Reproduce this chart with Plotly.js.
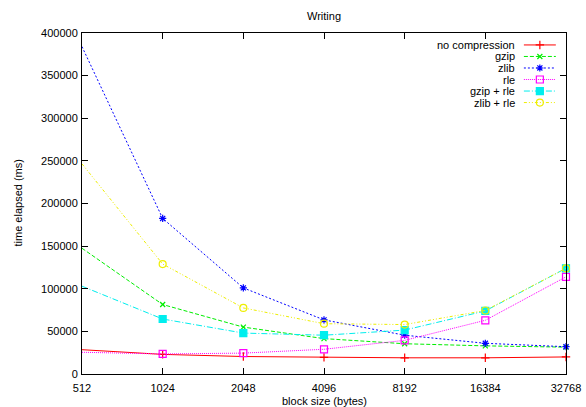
<!DOCTYPE html>
<html>
<head>
<meta charset="utf-8">
<script src="https://cdn.plot.ly/plotly-3.0.1.min.js"></script>
<style>
  html, body { margin: 0; padding: 0; background: #fff; }
  #chart { width: 586px; height: 407px; }
</style>
</head>
<body>
<div id="chart"></div>
<script>
// Block sizes (bytes) on the x axis
const blockSizes = [512, 1024, 2048, 4096, 8192, 16384, 32768];
const blockLabels = ['512', '1024', '2048', '4096', '8192', '16384', '32768'];

// Time elapsed (ms) for each compression mode
const noCompression = [28500, 23000, 20500, 19500, 19000, 19000, 20000];
const gzip          = [147500, 81500, 55000, 41500, 35500, 33000, 31500];
const zlib          = [384000, 182500, 101000, 63500, 45500, 36000, 32000];
const rle           = [25500, 23500, 24500, 29000, 39500, 63000, 114000];
const gzipRle       = [103000, 64500, 48000, 45500, 51500, 74000, 124000];
const zlibRle       = [246500, 129000, 77500, 59000, 58000, 74500, 124000];

const seriesNames = ['no compression', 'gzip', 'zlib', 'rle', 'gzip + rle', 'zlib + rle'];
const seriesData = [noCompression, gzip, zlib, rle, gzipRle, zlibRle];

const yTicks = [0, 50000, 100000, 150000, 200000, 250000, 300000, 350000, 400000];

// Line/marker styles in the classic gnuplot palette
const styles = [
  { color: '#ff0000', dash: 'solid',                   symbol: 'cross-thin-open', size: 6 },
  { color: '#00ee00', dash: '4px,2px',                 symbol: 'x-thin-open',     size: 5 },
  { color: '#0000ff', dash: '2px,2px',                 symbol: 'asterisk-open',   size: 6 },
  { color: '#ff00ff', dash: '1px,1px',                 symbol: 'square-open',     size: 7 },
  { color: '#00eeee', dash: '6px,2px,1px,2px',         symbol: 'square',          size: 7 },
  { color: '#eeee00', dash: '3px,2px,1px,2px,1px,2px', symbol: 'circle-open',     size: 7 }
];

function markerFor(s) {
  return { symbol: s.symbol, size: s.size, color: s.color,
           line: { color: s.color, width: 1.2 } };
}

const traces = seriesData.map((vals, i) => ({
  type: 'scatter',
  mode: 'lines+markers',
  name: seriesNames[i],
  x: blockSizes,
  y: vals,
  line: { color: styles[i].color, width: 1, dash: styles[i].dash },
  marker: markerFor(styles[i]),
  showlegend: false,
  cliponaxis: false
}));

// Key in the top-right corner: text right-aligned, sample line to its right
const keyTop = 0.965, keyStep = 0.0338;
const keyTextX = 0.899, keyLineX0 = 0.913, keyLineX1 = 0.979;
const annotations = [];
seriesNames.forEach((name, i) => {
  const ky = keyTop - i * keyStep;
  traces.push({
    type: 'scatter', mode: 'lines', xaxis: 'x2', yaxis: 'y2',
    x: [keyLineX0, keyLineX1], y: [ky, ky],
    line: { color: styles[i].color, width: 1, dash: styles[i].dash },
    showlegend: false, hoverinfo: 'skip'
  });
  traces.push({
    type: 'scatter', mode: 'markers', xaxis: 'x2', yaxis: 'y2',
    x: [(keyLineX0 + keyLineX1) / 2], y: [ky],
    marker: markerFor(styles[i]),
    showlegend: false, hoverinfo: 'skip'
  });
  annotations.push({
    xref: 'paper', yref: 'paper', x: keyTextX, y: ky,
    xanchor: 'right', yanchor: 'middle', showarrow: false,
    text: name, font: { size: 11, color: '#000' }
  });
});

annotations.push({
  xref: 'paper', yref: 'paper', x: 0.5, y: 1, yshift: 17,
  xanchor: 'center', yanchor: 'middle', showarrow: false,
  text: 'Writing', font: { size: 11, color: '#000' }
});
annotations.push({
  xref: 'paper', yref: 'paper', x: 0.5, y: 0, yshift: -27,
  xanchor: 'center', yanchor: 'middle', showarrow: false,
  text: 'block size (bytes)', font: { size: 11, color: '#000' }
});
annotations.push({
  xref: 'paper', yref: 'paper', x: 0, xshift: -65, y: 0.5,
  xanchor: 'center', yanchor: 'middle', showarrow: false, textangle: -90,
  text: 'time elapsed (ms)', font: { size: 11, color: '#000' }
});

const axisCommon = {
  showline: true, linecolor: '#000', linewidth: 1, mirror: 'ticks',
  ticks: 'inside', ticklen: 6, tickcolor: '#000', tickwidth: 1,
  showgrid: false, zeroline: false,
  tickfont: { size: 11, color: '#000' }
};

const layout = {
  width: 586, height: 407,
  margin: { l: 82, r: 20, t: 33, b: 33 },
  paper_bgcolor: '#fff', plot_bgcolor: '#fff',
  font: { family: 'Liberation Sans, Arial, sans-serif', size: 11, color: '#000' },
  showlegend: false,
  xaxis: Object.assign({}, axisCommon, {
    type: 'log',
    range: [Math.log10(blockSizes[0]), Math.log10(blockSizes[blockSizes.length - 1])],
    tickmode: 'array', tickvals: blockSizes, ticktext: blockLabels,
    ticklabelstandoff: 4
  }),
  yaxis: Object.assign({}, axisCommon, {
    range: [0, 400000],
    tickmode: 'array', tickvals: yTicks, ticktext: yTicks.map(String),
    ticklabelstandoff: 1
  }),
  xaxis2: { overlaying: 'x', range: [0, 1], visible: false, fixedrange: true },
  yaxis2: { overlaying: 'y', range: [0, 1], visible: false, fixedrange: true },
  annotations: annotations
};

Plotly.newPlot('chart', traces, layout, { staticPlot: true, displayModeBar: false });
</script>
</body>
</html>
